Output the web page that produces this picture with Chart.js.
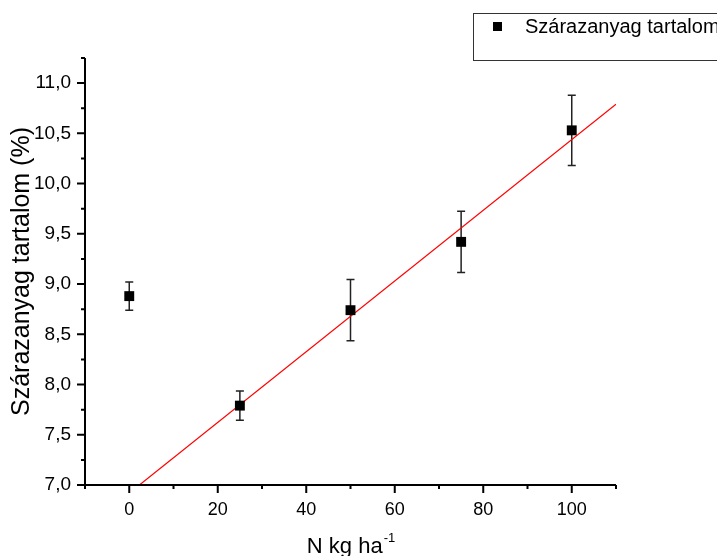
<!DOCTYPE html>
<html>
<head>
<meta charset="utf-8">
<script src="https://cdn.jsdelivr.net/npm/chart.js@4/dist/chart.umd.min.js"></script>
<style>
  body { margin: 0; background: #fff; }
  #wrap { width: 717px; height: 556px; }
</style>
</head>
<body>
<div id="wrap"><canvas id="chart" width="717" height="556"></canvas></div>
<script>
// adatok (leolvasva az ábráról)
const nDoses = [0, 25, 50, 75, 100];
const dryMatter = [8.88, 7.79, 8.74, 9.42, 10.53];
const dryMatterErr = [0.14, 0.145, 0.305, 0.305, 0.35];

// illesztett egyenes végpontjai
const fitX = [2.3, 110];
const fitY = [7.0, 10.79];

// tengely beosztások
const xTicks = [0, 20, 40, 60, 80, 100];
const xTickLabels = ["0", "20", "40", "60", "80", "100"];
const xMinorTicks = [-10, 10, 30, 50, 70, 90, 110];
const yTicks = [7.0, 7.5, 8.0, 8.5, 9.0, 9.5, 10.0, 10.5, 11.0];
const yTickLabels = ["7,0", "7,5", "8,0", "8,5", "9,0", "9,5", "10,0", "10,5", "11,0"];
const yMinorTicks = [7.25, 7.75, 8.25, 8.75, 9.25, 9.75, 10.25, 10.75, 11.25];

const seriesLabel = "Szárazanyag tartalom";
const yTitle = "Szárazanyag tartalom (%)";
const xTitle = "N kg ha";
const xTitleSup = "-1";

const FONT = "Arial, 'Liberation Sans', sans-serif";

// hibasávok + tengelyek + jelmagyarázat kézzel
const originStyle = {
  id: "originStyle",
  beforeDatasetsDraw(chart) {
    const ctx = chart.ctx;
    const xs = chart.scales.x, ys = chart.scales.y;
    ctx.save();
    ctx.strokeStyle = "#222";
    ctx.lineWidth = 1.5;
    nDoses.forEach((n, i) => {
      const px = xs.getPixelForValue(n);
      const top = ys.getPixelForValue(dryMatter[i] + dryMatterErr[i]);
      const bot = ys.getPixelForValue(dryMatter[i] - dryMatterErr[i]);
      ctx.beginPath();
      ctx.moveTo(px, top); ctx.lineTo(px, bot);
      ctx.moveTo(px - 4, top); ctx.lineTo(px + 4, top);
      ctx.moveTo(px - 4, bot); ctx.lineTo(px + 4, bot);
      ctx.stroke();
    });
    ctx.restore();
  },
  afterDraw(chart) {
    const ctx = chart.ctx;
    const xs = chart.scales.x, ys = chart.scales.y;
    const area = chart.chartArea;
    ctx.save();
    ctx.strokeStyle = "#000";
    ctx.fillStyle = "#000";
    ctx.lineWidth = 2;

    // tengelyvonalak
    ctx.beginPath();
    ctx.moveTo(area.left, area.top);
    ctx.lineTo(area.left, area.bottom);
    ctx.lineTo(area.right, area.bottom);
    ctx.stroke();

    // y beosztás
    ctx.beginPath();
    yTicks.forEach(v => {
      const py = ys.getPixelForValue(v);
      ctx.moveTo(area.left - 8, py); ctx.lineTo(area.left, py);
    });
    yMinorTicks.forEach(v => {
      const py = ys.getPixelForValue(v);
      ctx.moveTo(area.left - 4, py); ctx.lineTo(area.left, py);
    });
    // x beosztás
    xTicks.forEach(v => {
      const px = xs.getPixelForValue(v);
      ctx.moveTo(px, area.bottom); ctx.lineTo(px, area.bottom + 8);
    });
    xMinorTicks.forEach(v => {
      const px = xs.getPixelForValue(v);
      ctx.moveTo(px, area.bottom); ctx.lineTo(px, area.bottom + 4);
    });
    ctx.stroke();

    // feliratok
    ctx.font = "19px " + FONT;
    ctx.textAlign = "right";
    ctx.textBaseline = "middle";
    yTicks.forEach((v, i) => {
      ctx.fillText(yTickLabels[i], area.left - 14, ys.getPixelForValue(v));
    });
    ctx.font = "18px " + FONT;
    ctx.textAlign = "center";
    ctx.textBaseline = "alphabetic";
    xTicks.forEach((v, i) => {
      ctx.fillText(xTickLabels[i], xs.getPixelForValue(v), 515);
    });

    // x cím felső indexszel
    ctx.font = "22px " + FONT;
    const wMain = ctx.measureText(xTitle).width;
    ctx.font = "13px " + FONT;
    const wSup = ctx.measureText(xTitleSup).width;
    const cx = (area.left + area.right) / 2;
    const startX = cx - (wMain + wSup) / 2;
    ctx.textAlign = "left";
    ctx.font = "22px " + FONT;
    ctx.fillText(xTitle, startX, 553);
    ctx.font = "13px " + FONT;
    ctx.fillText(xTitleSup, startX + wMain + 1, 542);

    // y cím
    ctx.save();
    ctx.translate(29, (area.top + area.bottom) / 2);
    ctx.rotate(-Math.PI / 2);
    ctx.font = "25px " + FONT;
    ctx.textAlign = "center";
    ctx.fillText(yTitle, 0, 0);
    ctx.restore();

    // jelmagyarázat doboz
    ctx.lineWidth = 1;
    ctx.strokeStyle = "#333";
    ctx.strokeRect(473.5, 13.5, 260, 47);
    ctx.fillRect(493, 22, 9, 9);
    ctx.font = "20px " + FONT;
    ctx.textAlign = "left";
    ctx.fillText(seriesLabel, 525, 33);
    ctx.restore();
  }
};

const ctx = document.getElementById("chart").getContext("2d");

new Chart(ctx, {
  type: "scatter",
  data: {
    datasets: [
      {
        label: seriesLabel,
        data: nDoses.map((n, i) => ({ x: n, y: dryMatter[i] })),
        pointStyle: "rect",
        pointRadius: 7,
        backgroundColor: "#000",
        borderColor: "#000",
        borderWidth: 0,
        order: 1
      },
      {
        label: "fit",
        type: "line",
        data: fitX.map((x, i) => ({ x: x, y: fitY[i] })),
        borderColor: "#ff0000",
        borderWidth: 1.2,
        pointRadius: 0,
        fill: false,
        order: 2
      }
    ]
  },
  options: {
    responsive: false,
    animation: false,
    layout: { padding: { left: 85, right: 101, top: 58, bottom: 71 } },
    plugins: {
      legend: { display: false },
      tooltip: { enabled: false }
    },
    scales: {
      x: { type: "linear", min: -10, max: 110, display: false },
      y: { type: "linear", min: 7.0, max: 11.25, display: false }
    }
  },
  plugins: [originStyle]
});
</script>
</body>
</html>
